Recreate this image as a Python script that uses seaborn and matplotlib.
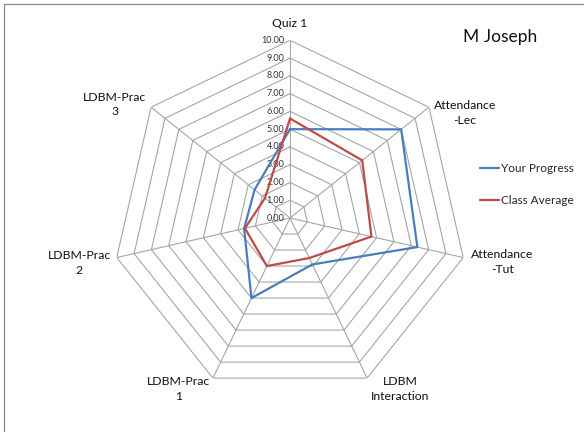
import numpy as np
import pandas as pd
import matplotlib
matplotlib.use("Agg")
import matplotlib.pyplot as plt
from matplotlib.patches import Rectangle
import seaborn as sns

# values
categories = ["Quiz 1", "Attendance\n-Lec", "Attendance\n-Tut", "LDBM\nInteraction",
              "LDBM-Prac\n1", "LDBM-Prac\n2", "LDBM-Prac\n3"]
your_progress = [5.0, 8.0, 7.35, 2.9, 5.0, 2.65, 2.55]
class_average = [5.6, 5.2, 4.7, 2.5, 3.0, 2.6, 1.8]
ring_values = [1, 2, 3, 4, 5, 6, 7, 8, 9, 10]
tick_labels = ["%.2f" % v for v in range(0, 11)]
series_names = ["Your Progress", "Class Average"]
series_colors = ["#4a7ebb", "#be4b48"]

sns.set_style("white")
plt.rcParams["font.family"] = ["Lato", "DejaVu Sans"]

n = len(categories)
angles = np.linspace(0, 2 * np.pi, n, endpoint=False)
closed = np.append(angles, angles[0])

rows = []
for name, vals in zip(series_names, [your_progress, class_average]):
    for i, (a, v) in enumerate(zip(closed, vals + vals[:1])):
        rows.append({"theta": a, "r": v, "series": name, "order": i})
df = pd.DataFrame(rows)

fig = plt.figure(figsize=(5.84, 4.32), dpi=100)
ax = fig.add_axes([0.1923, 0.0840, 0.6086, 0.8227], projection="polar")
ax.set_theta_offset(np.pi / 2)
ax.set_theta_direction(-1)
ax.set_ylim(0, 10)
ax.grid(False)
ax.spines["polar"].set_visible(False)
ax.set_xticks([])
ax.set_yticks([])
ax.patch.set_alpha(0)

grid_color = "#a6a6a6"
for rv in ring_values:
    ax.plot(closed, [rv] * len(closed), color=grid_color, lw=0.8, zorder=1)
for a in angles:
    ax.plot([a, a], [0, 10], color=grid_color, lw=0.8, zorder=1)

# value labels along the top spoke
for k, lab in enumerate(tick_labels):
    ax.annotate(lab, xy=(0, k), xytext=(-4, 0), textcoords="offset points",
                ha="right", va="center", fontsize=6.5, color="#333333")

sns.lineplot(data=df, x="theta", y="r", hue="series", units="series",
             estimator=None, sort=False, palette=series_colors,
             hue_order=series_names, lw=1.6, ax=ax, legend=False, zorder=3)
ax.set_xlabel("")
ax.set_ylabel("")

# category labels, nudged like the original
label_offsets = [(0, 12), (26, -4), (28, -3), (24, -8), (-25, -8), (-27, -4), (-26, 2)]
for a, lab, off in zip(angles, categories, label_offsets):
    ax.annotate(lab, xy=(a, 10), xytext=off, textcoords="offset points",
                ha="center", va="center", multialignment="center",
                fontsize=8.8, color="#111111", linespacing=1.4)

fig.text(500 / 584, 1 - 37 / 432, "M Joseph", ha="center", va="center",
         fontsize=12.5, color="#111111")

handles = [plt.Line2D([], [], color=c, lw=1.6) for c in series_colors]
fig.legend(handles, series_names, loc="upper left",
           bbox_to_anchor=(480 / 584, 1 - 163 / 432), frameon=False,
           fontsize=8.5, borderpad=0, borderaxespad=0, handlelength=1.65,
           handletextpad=0.15, labelspacing=1.8)

fig.add_artist(Rectangle((4 / 584, -0.1), 1.2, 1.1 - 4 / 432,
                         transform=fig.transFigure, fill=False,
                         edgecolor="#8c8c8c", lw=0.9))

fig.savefig("out.png", dpi=100)
